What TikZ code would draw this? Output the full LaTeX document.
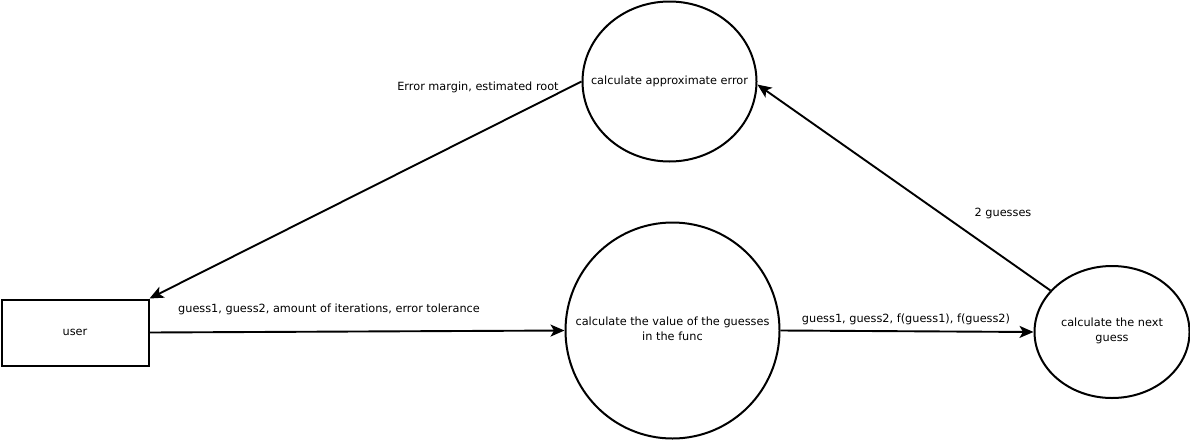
\documentclass[tikz,border=0pt]{standalone}
\usepackage{fontspec}
\setmainfont{DejaVu Sans}
\usetikzlibrary{shapes.geometric,arrows.meta}
\tikzset{
  box/.style={draw, line width=2pt, rectangle, inner sep=0pt, minimum width=147pt, minimum height=66pt},
  proc/.style={draw, line width=2pt, ellipse, inner sep=0pt},
  ptext/.style={inner sep=0pt, align=center},
  flow/.style={line width=1.9pt, -{Stealth[length=14pt,width=12pt,inset=3.5pt]}},
  lbl/.style={inner sep=0pt, anchor=center},
}
\begin{document}
\begin{tikzpicture}[x=1pt,y=-1pt,font=\fontsize{11.3pt}{15pt}\selectfont]
\useasboundingbox (0,0) rectangle (1190,442);
\node[box] (user) at (75,332.5) {user};
\node[proc, minimum width=174pt, minimum height=160pt] (ae) at (669.5,81.5) {};
\node[ptext] (aet) at (ae.center) {calculate approximate error};
\node[proc, minimum width=214pt, minimum height=216pt] (cv) at (672.5,330.5) {};
\node[ptext] (cvt) at ([yshift=2pt]cv.center) {calculate the value of the guesses\\in the func};
\node[proc, minimum width=155pt, minimum height=132pt] (ng) at (1112,332) {};
\node[ptext] (ngt) at ([yshift=1pt]ng.center) {calculate the next\\guess};

\node[lbl] (l1) at (329,309) {guess1, guess2, amount of iterations, error tolerance};
\node[lbl] (l2) at (906,319) {guess1, guess2, f(guess1), f(guess2)};
\node[lbl] (l3) at (1003,213) {2 guesses};
\node[lbl] (l4) at (478,87) {Error margin, estimated root};

\draw[flow] (user.east) -- (cv.west);
\draw[flow] (cv.east) -- (ng.west);
\draw[flow] (ng.146) -- (ae.-2);
\draw[flow] (ae.west) -- (user.north east);
\end{tikzpicture}
\end{document}
